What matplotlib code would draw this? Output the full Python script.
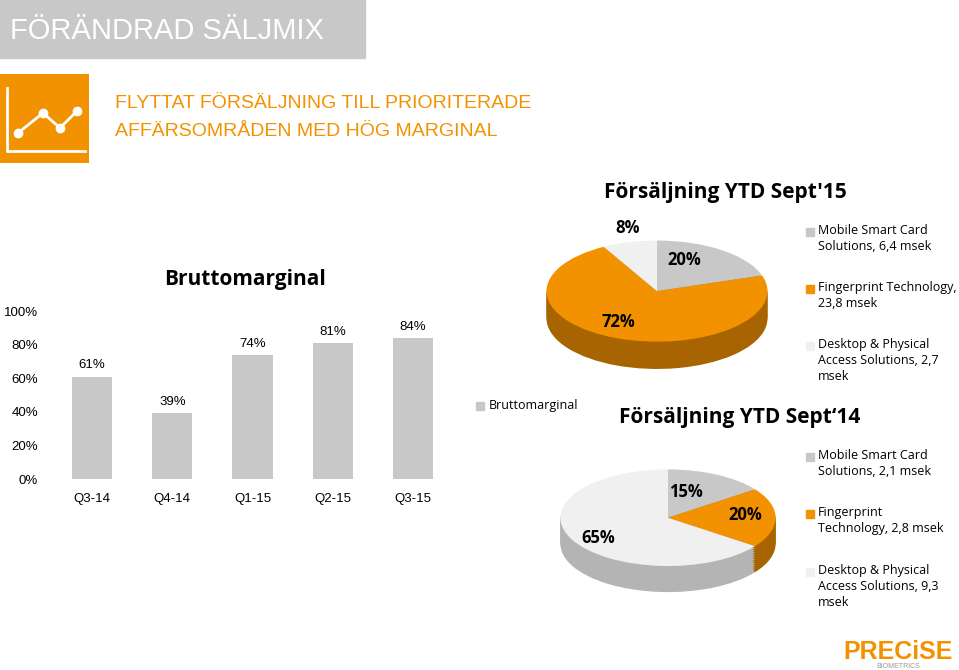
import matplotlib.pyplot as plt
from matplotlib.patches import Rectangle

quarters = ["Q3-14", "Q4-14", "Q1-15", "Q2-15", "Q3-15"]
margin = [61, 39, 74, 81, 84]

pie15_labels = ["Mobile Smart Card\nSolutions, 6,4 msek",
                "Fingerprint Technology,\n23,8 msek",
                "Desktop & Physical\nAccess Solutions, 2,7\nmsek"]
pie15_values = [20, 72, 8]
pie14_labels = ["Mobile Smart Card\nSolutions, 2,1 msek",
                "Fingerprint\nTechnology, 2,8 msek",
                "Desktop & Physical\nAccess Solutions, 9,3\nmsek"]
pie14_values = [15, 20, 65]

ORANGE = "#F39200"
GRAY = "#C8C8C8"
LIGHT = "#F0F0F0"
top_cols = [GRAY, ORANGE, LIGHT]
side_cols = ["#8C8C8C", "#A86400", "#B4B4B4"]

W, H = 959, 670
fig = plt.figure(figsize=(W / 100, H / 100), dpi=100)


def fx(x):
    return x / W


def fy(y):
    return 1 - y / H


# header
fig.patches.append(Rectangle((0, fy(58)), fx(365), 58 / H, transform=fig.transFigure,
                             color="#C8C8C8", zorder=0))
fig.text(fx(10), fy(31), "FÖRÄNDRAD SÄLJMIX", color="white", fontsize=21,
         family="Liberation Sans", va="center")
icon = fig.add_axes([0, fy(163), fx(89), 89 / H])
icon.set_facecolor(ORANGE)
icon.set_xlim(0, 89)
icon.set_ylim(0, 89)
icon.set_xticks([])
icon.set_yticks([])
for s in icon.spines.values():
    s.set_visible(False)
icon.plot([7, 7, 85], [75, 12, 12], color="white", lw=2)
icon.plot([18, 43, 60, 77], [30, 50, 35, 52], color="white", lw=2, marker="o", ms=6)
fig.text(fx(115), fy(104), "FLYTTAT FÖRSÄLJNING TILL PRIORITERADE", color=ORANGE,
         fontsize=14, family="Liberation Sans", va="center")
fig.text(fx(115), fy(131), "AFFÄRSOMRÅDEN MED HÖG MARGINAL", color=ORANGE,
         fontsize=14, family="Liberation Sans", va="center")

# bar chart
ax = fig.add_axes([fx(52), fy(479), fx(401), 168 / H])
ax.bar(range(len(quarters)), margin, width=0.5, color="#C8C8C8")
for i, v in enumerate(margin):
    ax.text(i, v + 3, f"{v}%", fontsize=9.5, ha="center", va="bottom",
            family="Liberation Sans")
ax.set_xlim(-0.5, len(quarters) - 0.5)
ax.set_ylim(0, 100)
ax.set_yticks(range(0, 101, 20))
ax.set_yticklabels([f"{t}%" for t in range(0, 101, 20)], fontsize=9.5,
                   family="Liberation Sans")
ax.set_xticks(range(len(quarters)))
ax.set_xticklabels(quarters, fontsize=9.5, family="Liberation Sans")
ax.tick_params(length=0, pad=10)
for s in ax.spines.values():
    s.set_visible(False)
ax.axhline(0, color="#D9D9D9", lw=0.8)
fig.text(fx(245), fy(280), "Bruttomarginal", fontsize=15, fontweight="bold",
         family="Open Sans", ha="center", va="center")
fig.patches.append(Rectangle((fx(476), fy(410)), fx(8), 8 / H, transform=fig.transFigure,
                             color=GRAY))
fig.text(fx(489), fy(405), "Bruttomarginal", fontsize=9, va="center", family="Open Sans")


def pie3d(cx, cy, rx, ry, values, labels_pos):
    pax = fig.add_axes([fx(cx - rx - 5), fy(cy + ry + 35), fx(2 * rx + 10), (2 * ry + 40) / H])
    for k in range(12, 0, -1):
        pax.pie(values, colors=side_cols, startangle=90, counterclock=False,
                center=(0, -k * 0.045), radius=1)
    pax.pie(values, colors=top_cols, startangle=90, counterclock=False, radius=1)
    pax.set_xlim(-1.05, 1.05)
    pax.set_ylim(-1.6, 1.05)
    pax.set_aspect("auto")
    pax.axis("off")
    for (x, y), v in zip(labels_pos, values):
        fig.text(fx(x), fy(y), f"{v}%", fontsize=12, fontweight="bold",
                 ha="center", va="center", family="Open Sans")


fig.text(fx(725), fy(193), "Försäljning YTD Sept'15", fontsize=15, fontweight="bold",
         ha="center", va="center", family="Open Sans")
pie3d(657, 290, 111, 47, pie15_values, [(684, 260), (618, 322), (628, 228)])
fig.text(fx(740), fy(418), "Försäljning YTD Sept‘14", fontsize=15, fontweight="bold",
         ha="center", va="center", family="Open Sans")
pie3d(668, 516, 108, 44, pie14_values, [(686, 492), (745, 515), (598, 538)])


def legend(labels, ys):
    for lab, y, c in zip(labels, ys, top_cols):
        fig.patches.append(Rectangle((fx(806), fy(y + 4)), fx(8), 8 / H,
                                     transform=fig.transFigure, color=c))
        fig.text(fx(818), fy(y - 8), lab, fontsize=9, va="top", family="Open Sans",
                 linespacing=1.3)


legend(pie15_labels, [232, 289, 346])
legend(pie14_labels, [457, 514, 572])

fig.text(fx(898), fy(652), "PRECiSE", color=ORANGE, fontsize=18, fontweight="bold",
         ha="center", va="center", family="Liberation Sans")
fig.text(fx(898), fy(666), "BIOMETRICS", color="#999999", fontsize=5,
         ha="center", va="center", family="Liberation Sans")

fig.savefig("out.png", dpi=100)
